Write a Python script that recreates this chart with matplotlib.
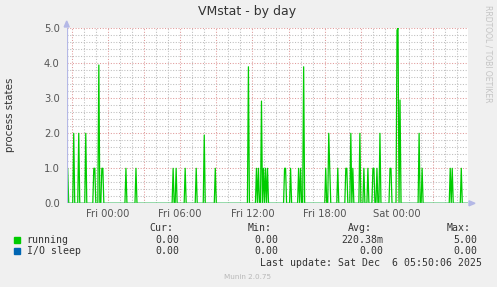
import numpy as np
import matplotlib
matplotlib.use("Agg")
import matplotlib.pyplot as plt

# spikes in the "running" series: hours from Fri 00:00, number of processes
spike_hours = [-3.31, -2.87, -2.45, -1.87, -1.20, -1.12, -0.78, -0.50, -0.42,
               1.47, 2.30, 5.38, 5.63, 6.38, 7.30, 7.97, 8.88,
               11.63, 12.36, 12.53, 12.75, 12.92, 13.08, 13.25,
               14.63, 14.75, 15.13, 15.80, 15.97, 16.22,
               18.05, 18.30, 18.44, 19.05, 19.72, 19.80, 20.13, 20.30,
               20.88, 21.22, 21.55, 21.97, 22.05, 22.30, 22.57,
               23.38, 23.47, 23.97, 24.05, 24.22, 25.80, 26.05,
               28.44, 28.61, 29.30]
spike_values = [1.0, 2.0, 2.0, 2.0, 1.0, 1.0, 3.95, 1.0, 1.0,
                1.0, 1.0, 1.0, 1.0, 1.0, 1.0, 1.95, 1.0,
                3.9, 1.0, 1.0, 2.92, 1.0, 1.0, 1.0,
                1.0, 1.0, 1.0, 1.0, 1.0, 3.9,
                1.0, 2.0, 1.0, 1.0, 1.0, 1.0, 2.0, 1.0,
                2.0, 1.0, 1.0, 1.0, 1.0, 1.0, 2.0,
                1.0, 1.0, 4.95, 5.0, 2.95, 2.0, 1.0,
                1.0, 1.0, 1.0]

tick_hours = [0, 6, 12, 18, 24]
tick_labels = ["Fri 00:00", "Fri 06:00", "Fri 12:00", "Fri 18:00", "Sat 00:00"]

legend_names = ["running", "I/O sleep"]
legend_colors = ["#00CC00", "#0066B3"]
cur_vals = ["0.00", "0.00"]
min_vals = ["0.00", "0.00"]
avg_vals = ["220.38m", "0.00"]
max_vals = ["5.00", "0.00"]

# one sample every 5 minutes, 400 samples
n_samples = 400
end_h = 29.92
start_h = end_h - n_samples / 12
t = start_h + np.arange(n_samples) / 12
running = np.zeros(n_samples)
for h, v in zip(spike_hours, spike_values):
    running[int(round((h - start_h) * 12))] = v
io_sleep = np.zeros(n_samples)

W, H = 497, 287
fig = plt.figure(figsize=(W / 100, H / 100), dpi=100, facecolor="#F0F0F0")
ax = fig.add_axes([66.7 / W, 1 - 203.3 / H, 401.6 / W, 175 / H])
ax.set_facecolor("white")
ax.set_xlim(start_h, end_h)
ax.set_ylim(0, 5.0)

red = "#E09A9A"
gray = "#BDBDBD"
dots = (0, (1, 1.6))
for h in range(-3, 30):
    ax.axvline(h, color=red if h % 3 == 0 else gray, lw=0.75, ls=dots, zorder=1)
for y in np.arange(0.2, 5.01, 0.2):
    major = abs(y - round(y)) < 1e-6
    ax.axhline(y, color=red if major else gray, lw=0.75, ls=dots, zorder=1)

ax.plot(t, io_sleep, color=legend_colors[1], lw=0.9, zorder=2)
ax.plot(t, running, color=legend_colors[0], lw=0.9, zorder=3)

for s in ax.spines.values():
    s.set_visible(False)
axis_col = "#B4B8E6"
ax.axhline(0, color=axis_col, lw=0.9, zorder=4)
ax.axvline(start_h, color=axis_col, lw=0.9, zorder=4)

ax.set_xticks(tick_hours, tick_labels)
ax.set_yticks(np.arange(0, 5.01, 1.0), [f"{v:.1f}" for v in np.arange(0, 5.01, 1.0)])
ax.tick_params(length=0, labelsize=7.2, colors="#555555", pad=5)
ax.tick_params(axis="x", pad=4)

# axis arrows
fig.patches.append(plt.Polygon([[64.2 / W, 1 - 27 / H], [69.2 / W, 1 - 27 / H], [66.7 / W, 1 - 21 / H]],
                               closed=True, transform=fig.transFigure, color=axis_col))
fig.patches.append(plt.Polygon([[469 / W, 1 - 200.8 / H], [469 / W, 1 - 205.8 / H], [475 / W, 1 - 203.3 / H]],
                               closed=True, transform=fig.transFigure, color=axis_col))

fig.text(247 / W, 1 - 12 / H, "VMstat - by day", ha="center", va="center", fontsize=9, color="#333333")
fig.text(10 / W, 1 - 115 / H, "process states", rotation=90, ha="center", va="center",
         fontsize=7.4, color="#333333")
fig.text(488 / W, 1 - 54 / H, "RRDTOOL / TOBI OETIKER", rotation=270, ha="center", va="center",
         fontsize=5.5, color="#C4C4C4")

mono = dict(family="DejaVu Sans Mono", fontsize=7.1, color="#333333", va="center")
fig.text(149 / W, 1 - 228.3 / H, "Cur:", ha="left", **mono)
fig.text(248 / W, 1 - 228.3 / H, "Min:", ha="left", **mono)
fig.text(348 / W, 1 - 228.3 / H, "Avg:", ha="left", **mono)
fig.text(447 / W, 1 - 228.3 / H, "Max:", ha="left", **mono)
for i, name in enumerate(legend_names):
    y = 1 - (239.7 + 11.3 * i) / H
    fig.patches.append(plt.Rectangle((14 / W, y - 3 / H), 6 / W, 6 / H,
                                     transform=fig.transFigure, color=legend_colors[i]))
    fig.text(26.7 / W, y, name, ha="left", **mono)
    fig.text(179 / W, y, cur_vals[i], ha="right", **mono)
    fig.text(278 / W, y, min_vals[i], ha="right", **mono)
    fig.text(383.3 / W, y, avg_vals[i], ha="right", **mono)
    fig.text(477 / W, y, max_vals[i], ha="right", **mono)
fig.text(482 / W, 1 - 263.3 / H, "Last update: Sat Dec  6 05:50:06 2025", ha="right", **mono)
fig.text(248 / W, 1 - 276.7 / H, "Munin 2.0.75", ha="center", va="center", fontsize=5.2, color="#B8B8B8")

fig.savefig("out.png", dpi=100, facecolor=fig.get_facecolor())
